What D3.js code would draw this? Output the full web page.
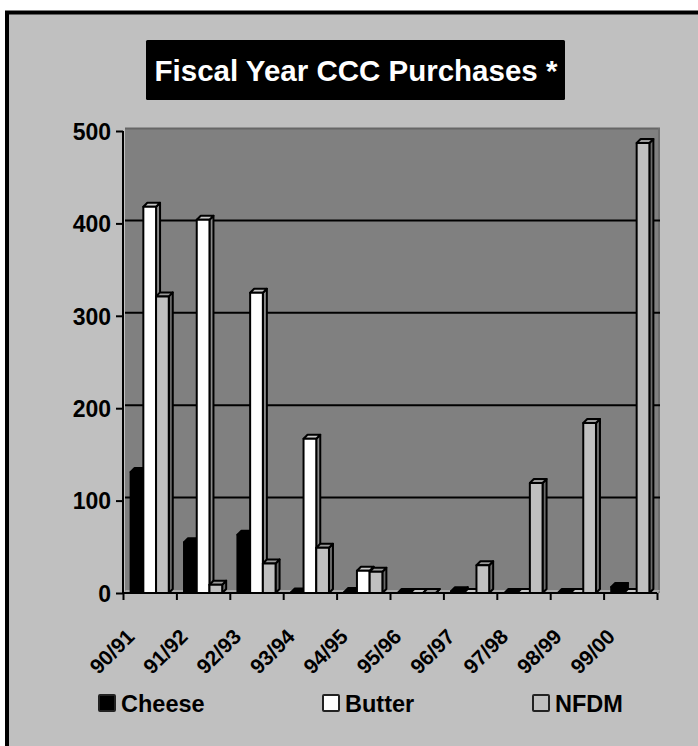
<!DOCTYPE html>
<html>
<head>
<meta charset="utf-8">
<script src="https://cdn.jsdelivr.net/npm/d3@7"></script>
<style>
  html, body { margin: 0; padding: 0; background: #ffffff; }
  svg { display: block; }
</style>
</head>
<body>
<svg id="chart" width="698" height="746"></svg>
<script>
// ---------- data ----------
const categories = ["90/91","91/92","92/93","93/94","94/95","95/96","96/97","97/98","98/99","99/00"];
const seriesNames = ["Cheese","Butter","NFDM"];
const cheese = [131, 55, 63, 0.5, 1, 0, 2, 0, 0, 6.5];
const butter = [418, 404, 325, 167, 24, 0, 0, 0, 0, 0];
const nfdm   = [321, 9, 32, 49, 23, 0, 30, 119, 184, 487];
const yTicks = [0, 100, 200, 300, 400, 500];
const titleText = "Fiscal Year CCC Purchases *";

(function () {
const seriesValues = { Cheese: cheese, Butter: butter, NFDM: nfdm };
const faceColors = {
  Cheese: { front: "#000000", top: "#000000", side: "#000000" },
  Butter: { front: "#ffffff", top: "#c8c8c8", side: "#8a8a8a" },
  NFDM:   { front: "#c0c0c0", top: "#9a9a9a", side: "#6a6a6a" }
};

const FONT = "'Liberation Sans', Arial, Helvetica, sans-serif";
const svg = d3.select("#chart");

// ---------- frame ----------
svg.append("rect").attr("x", 7).attr("y", 12.5).attr("width", 760).attr("height", 800)
  .attr("fill", "#c0c0c0").attr("stroke", "#000").attr("stroke-width", 4);

// ---------- title ----------
svg.append("rect").attr("x", 146).attr("y", 40).attr("width", 419).attr("height", 60)
  .attr("fill", "#000").attr("rx", 1.5);
svg.append("text").attr("x", 356).attr("y", 80.5).attr("text-anchor", "middle")
  .attr("font-family", FONT).attr("font-weight", "bold").attr("font-size", 29.5)
  .attr("fill", "#fff").text(titleText);

// ---------- scales ----------
const pLeft = 123, pRight = 657, pBottom = 593, pTop = 131;
const x0 = d3.scaleBand().domain(categories).range([pLeft, pRight]).padding(0);
const x1 = d3.scaleBand().domain(seriesNames).range([0, x0.bandwidth()]).paddingInner(0).paddingOuter(0.6);
const y = d3.scaleLinear().domain([0, 500]).range([pBottom, pTop]);
const xEdges = d3.scaleLinear().domain([0, categories.length]).range([pLeft, pRight]);

const depth = 4; // 3D offset

// ---------- back wall ----------
const wallL = pLeft + 2, wallR = pRight + 3, wallT = y(500) - 3;
svg.append("rect").attr("x", wallL).attr("y", wallT).attr("width", wallR - wallL).attr("height", pBottom - wallT)
  .attr("fill", "#808080");
svg.append("line").attr("x1", wallL).attr("x2", wallR).attr("y1", wallT + 0.5).attr("y2", wallT + 0.5)
  .attr("stroke", "#666").attr("stroke-width", 2);
svg.append("line").attr("x1", wallR - 1).attr("x2", wallR - 1).attr("y1", wallT).attr("y2", pBottom - 3)
  .attr("stroke", "#6e6e6e").attr("stroke-width", 2);
// floor
svg.append("path")
  .attr("d", `M${pLeft},${pBottom} L${pRight},${pBottom} L${pRight + 3},${pBottom - 3} L${pLeft + 3},${pBottom - 3} Z`)
  .attr("fill", "#a8a8a8");

// gridlines on back wall
svg.append("g").selectAll("line").data(yTicks.filter(t => t > 0 && t < 500)).join("line")
  .attr("x1", wallL).attr("x2", wallR)
  .attr("y1", d => y(d) - 3).attr("y2", d => y(d) - 3)
  .attr("stroke", "#000").attr("stroke-width", 2);

// ---------- bars ----------
const barG = svg.append("g").attr("stroke", "#000").attr("stroke-width", 2).attr("stroke-linejoin", "round");
categories.forEach((cat, i) => {
  seriesNames.forEach(s => {
    const v = seriesValues[s][i];
    const bx = x0(cat) + x1(s);
    const bw = x1.bandwidth();
    const yt = y(v), yb = y(0);
    const c = faceColors[s];
    const g = barG.append("g");
    g.append("path").attr("fill", c.side)
      .attr("d", `M${bx + bw},${yb} L${bx + bw},${yt} L${bx + bw + depth},${yt - depth} L${bx + bw + depth},${yb - depth} Z`);
    g.append("path").attr("fill", c.top)
      .attr("d", `M${bx},${yt} L${bx + bw},${yt} L${bx + bw + depth},${yt - depth} L${bx + depth},${yt - depth} Z`);
    g.append("rect").attr("fill", c.front)
      .attr("x", bx).attr("y", yt).attr("width", bw).attr("height", Math.max(0, yb - yt));
  });
});

// ---------- axes ----------
const yAxis = svg.append("g").attr("transform", `translate(${pLeft},0)`)
  .call(d3.axisLeft(y).tickValues(yTicks).tickSize(7).tickPadding(5).tickFormat(d3.format("d")));
yAxis.select(".domain").attr("stroke", "#000").attr("stroke-width", 2).attr("d", `M0,${y(500)}V${pBottom}`);
yAxis.selectAll(".tick line").attr("stroke", "#000").attr("stroke-width", 2);
yAxis.selectAll(".tick text").attr("font-family", FONT).attr("font-weight", "bold")
  .attr("font-size", 23).attr("fill", "#000").attr("dy", "0.36em");

const xAxis = svg.append("g").attr("transform", `translate(0,${pBottom})`)
  .call(d3.axisBottom(xEdges).tickValues(d3.range(0, categories.length + 1)).tickSize(7).tickFormat(""));
xAxis.select(".domain").attr("stroke", "#000").attr("stroke-width", 2).attr("d", `M${pLeft},0H${pRight}`);
xAxis.selectAll(".tick line").attr("stroke", "#000").attr("stroke-width", 2);

// rotated category labels
svg.append("g").selectAll("text").data(categories).join("text")
  .attr("transform", d => `translate(${x0(d) + x0.bandwidth() / 2 - 14},638) rotate(-45)`)
  .attr("text-anchor", "end")
  .attr("font-family", FONT).attr("font-weight", "bold").attr("font-size", 21).attr("fill", "#000")
  .text(d => d);

// ---------- legend ----------
const legendX = [99, 323, 533];
const legendFill = { Cheese: "#000", Butter: "#fff", NFDM: "#c0c0c0" };
const leg = svg.append("g").selectAll("g").data(seriesNames).join("g")
  .attr("transform", (d, i) => `translate(${legendX[i]},695)`);
leg.append("rect").attr("x", 0).attr("y", 0).attr("width", 16).attr("height", 16).attr("rx", 1)
  .attr("fill", d => legendFill[d]).attr("stroke", "#222").attr("stroke-width", 2);
leg.append("text").attr("x", 22).attr("y", 17)
  .attr("font-family", FONT).attr("font-weight", "bold").attr("font-size", 23.5).attr("fill", "#000")
  .text(d => d);
})();
</script>
</body>
</html>
